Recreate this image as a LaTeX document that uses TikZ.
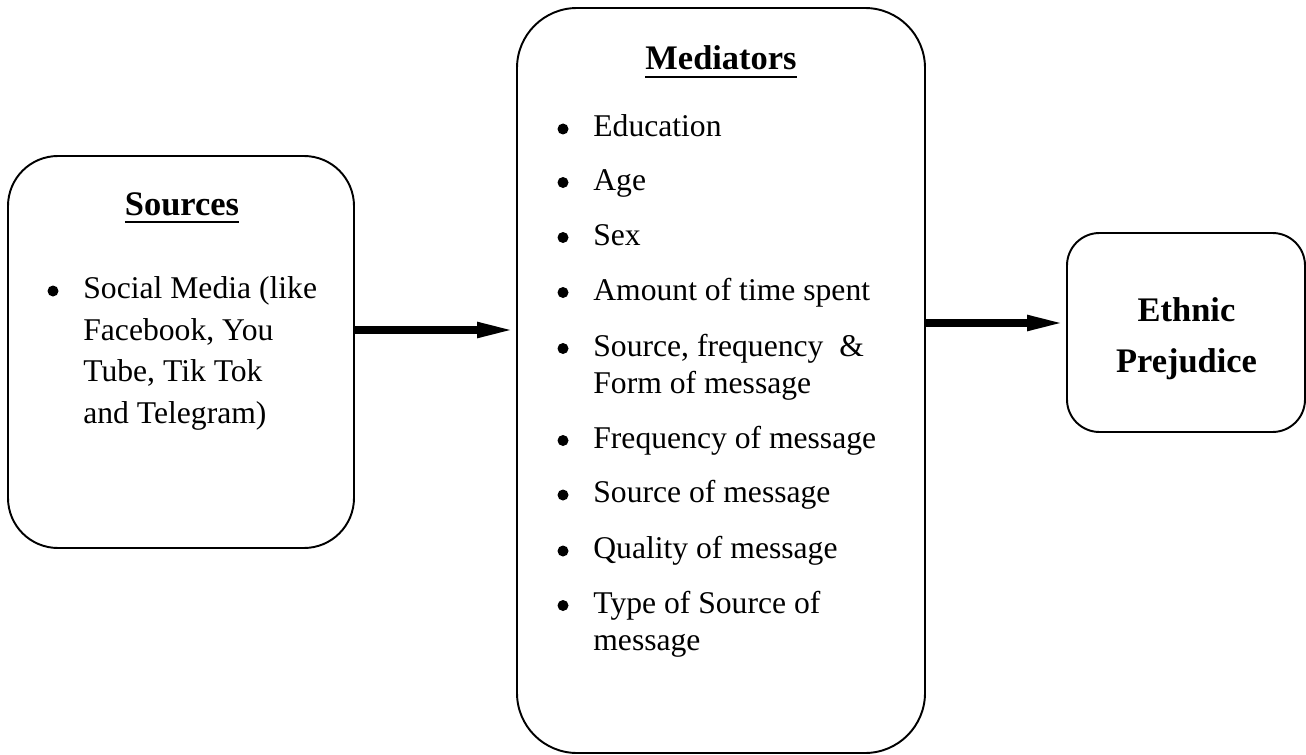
\documentclass[tikz,border=0pt]{standalone}
\usepackage{fontspec}
\setmainfont{Liberation Serif}
\usetikzlibrary{arrows.meta}

\newcommand{\ultitle}[1]{\vtop{\hbox{#1}\kern3.2pt\hrule height 1.1pt}}

\begin{document}
\begin{tikzpicture}[
box/.style={
draw,
line width=1.1pt,
inner sep=0pt
},
txt/.style={
anchor=base west,
inner sep=0pt,
font=\fontsize{18}{21}\selectfont
},
ttl/.style={
anchor=base,
inner sep=0pt,
font=\fontsize{19.6}{23}\selectfont\bfseries
},
flow/.style={
line width=0.15cm,
-{Triangle[length=0.78cm,width=0.28cm]}
}
]

\useasboundingbox (0,0) rectangle (26.12,-15.1);

% boxes
\node[box, rounded corners=1cm, minimum width=6.92cm, minimum height=7.84cm] (S)
at (3.62,-7.04)
{};

\node[box, rounded corners=1.2cm, minimum width=8.16cm, minimum height=14.9cm] (M)
at (14.42,-7.61)
{};

\node[box, rounded corners=0.65cm, minimum width=4.76cm, minimum height=3.98cm] (E)
at (23.72,-6.65)
{};

% sources
\node[ttl] (ST)
at (3.64,-4.3)
{\ultitle{Sources}};

\node[txt] (S1)
at (1.66,-5.97)
{Social Media (like};

\node[txt] (S2)
at (1.66,-6.8)
{Facebook, You};

\node[txt] (S3)
at (1.66,-7.62)
{Tube, Tik Tok};

\node[txt] (S4)
at (1.66,-8.46)
{and Telegram)};

% mediators
\node[ttl] (MT)
at (14.42,-1.4)
{\ultitle{Mediators}};

\node[txt] (M1)
at (11.86,-2.73)
{Education};

\node[txt] (M2)
at (11.86,-3.8)
{Age};

\node[txt] (M3)
at (11.86,-4.9)
{Sex};

\node[txt] (M4)
at (11.86,-6.0)
{Amount of time spent};

\node[txt] (M5)
at (11.86,-7.12)
{Source, frequency\ \ \&};

\node[txt] (M5b)
at (11.86,-7.86)
{Form of message};

\node[txt] (M6)
at (11.86,-8.96)
{Frequency of message};

\node[txt] (M7)
at (11.86,-10.05)
{Source of message};

\node[txt] (M8)
at (11.86,-11.17)
{Quality of message};

\node[txt] (M9)
at (11.86,-12.26)
{Type of Source of};

\node[txt] (M9b)
at (11.86,-13.0)
{message};

% outcome
\node[ttl] (E1)
at (23.73,-6.42)
{Ethnic};

\node[ttl] (E2)
at (23.73,-7.44)
{Prejudice};

% bullets
\foreach \n in {S1,M1,M2,M3,M4,M5,M6,M7,M8,M9}
\fill ([xshift=-0.6cm,yshift=0.15cm]\n.base west) circle (0.11cm);

\draw[flow] ([yshift=4.4mm]S.east) -- ([yshift=4.4mm]S.east -| M.west);
\draw[flow] ([yshift=1.9mm]E.west -| M.east) -- ([yshift=1.9mm]E.west);

\end{tikzpicture}
\end{document}
